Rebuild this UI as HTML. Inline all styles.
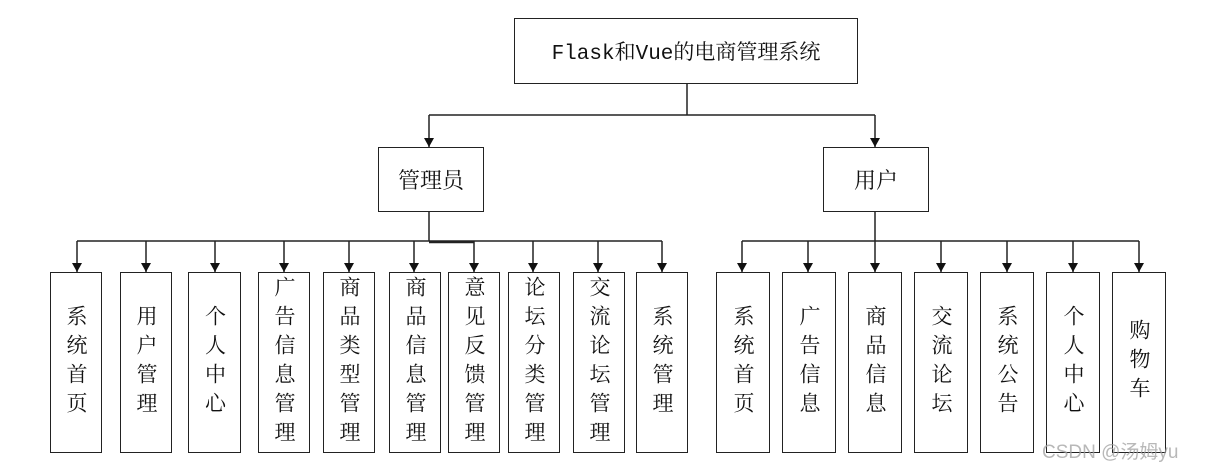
<!DOCTYPE html>
<html><head><meta charset="utf-8"><style>
body{margin:0;background:#fff;width:1205px;height:469px;overflow:hidden;position:relative;font-family:"Liberation Serif","Noto Serif CJK SC",serif;}
.b{position:absolute;border:1.5px solid #222;box-sizing:border-box;display:flex;align-items:center;justify-content:center;color:#111;background:#fff;}
.v{writing-mode:vertical-rl;font-size:21px;line-height:24px;letter-spacing:8px;text-orientation:upright;}
svg{position:absolute;left:0;top:0}
</style></head><body>
<svg width="1205" height="469">
<defs><marker id="a" markerWidth="10" markerHeight="10" refX="9" refY="5" orient="auto" markerUnits="userSpaceOnUse"><path d="M0,0 L9,5 L0,10 z" fill="#111"/></marker></defs>
<g stroke="#222" stroke-width="1.5" fill="none">
<path d="M687 83 V115 M429 115 H875"/>
<path d="M429 115 V147" marker-end="url(#a)"/>
<path d="M875 115 V147" marker-end="url(#a)"/>
<path d="M429 211 V241 M77 241 H662 M429 242.5 H474"/>
<path d="M77 241 V272" marker-end="url(#a)"/><path d="M146 241 V272" marker-end="url(#a)"/><path d="M215 241 V272" marker-end="url(#a)"/><path d="M284 241 V272" marker-end="url(#a)"/><path d="M349 241 V272" marker-end="url(#a)"/><path d="M414 241 V272" marker-end="url(#a)"/><path d="M474 241 V272" marker-end="url(#a)"/><path d="M533 241 V272" marker-end="url(#a)"/><path d="M598 241 V272" marker-end="url(#a)"/><path d="M662 241 V272" marker-end="url(#a)"/>
<path d="M875 211 V241 M742 241 H1139"/>
<path d="M742 241 V272" marker-end="url(#a)"/><path d="M808 241 V272" marker-end="url(#a)"/><path d="M875 241 V272" marker-end="url(#a)"/><path d="M941 241 V272" marker-end="url(#a)"/><path d="M1007 241 V272" marker-end="url(#a)"/><path d="M1073 241 V272" marker-end="url(#a)"/><path d="M1139 241 V272" marker-end="url(#a)"/>
</g></svg>
<div class="b" style="left:514px;top:18px;width:344px;height:66px;font-size:21px;font-family:'Liberation Mono','Noto Serif CJK SC',monospace;">Flask和Vue的电商管理系统</div>
<div class="b" style="left:378px;top:147px;width:106px;height:65px;font-size:22px;">管理员</div>
<div class="b" style="left:823px;top:147px;width:106px;height:65px;font-size:22px;">用户</div>
<div class="b v" style="left:50px;top:272px;width:52px;height:181px">系统首页</div>
<div class="b v" style="left:120px;top:272px;width:52px;height:181px">用户管理</div>
<div class="b v" style="left:188px;top:272px;width:53px;height:181px">个人中心</div>
<div class="b v" style="left:258px;top:272px;width:52px;height:181px">广告信息管理</div>
<div class="b v" style="left:323px;top:272px;width:52px;height:181px">商品类型管理</div>
<div class="b v" style="left:389px;top:272px;width:52px;height:181px">商品信息管理</div>
<div class="b v" style="left:448px;top:272px;width:52px;height:181px">意见反馈管理</div>
<div class="b v" style="left:508px;top:272px;width:52px;height:181px">论坛分类管理</div>
<div class="b v" style="left:573px;top:272px;width:52px;height:181px">交流论坛管理</div>
<div class="b v" style="left:636px;top:272px;width:52px;height:181px">系统管理</div>
<div class="b v" style="left:716px;top:272px;width:54px;height:181px">系统首页</div>
<div class="b v" style="left:782px;top:272px;width:54px;height:181px">广告信息</div>
<div class="b v" style="left:848px;top:272px;width:54px;height:181px">商品信息</div>
<div class="b v" style="left:914px;top:272px;width:54px;height:181px">交流论坛</div>
<div class="b v" style="left:980px;top:272px;width:54px;height:181px">系统公告</div>
<div class="b v" style="left:1046px;top:272px;width:54px;height:181px">个人中心</div>
<div class="b v" style="left:1112px;top:272px;width:54px;height:181px">购物车</div>
<div style="position:absolute;left:1042px;top:437px;font-size:19px;color:rgba(160,160,160,0.75);font-family:'Liberation Sans','Noto Sans CJK SC',sans-serif;">CSDN @汤姆yu</div>
</body></html>
